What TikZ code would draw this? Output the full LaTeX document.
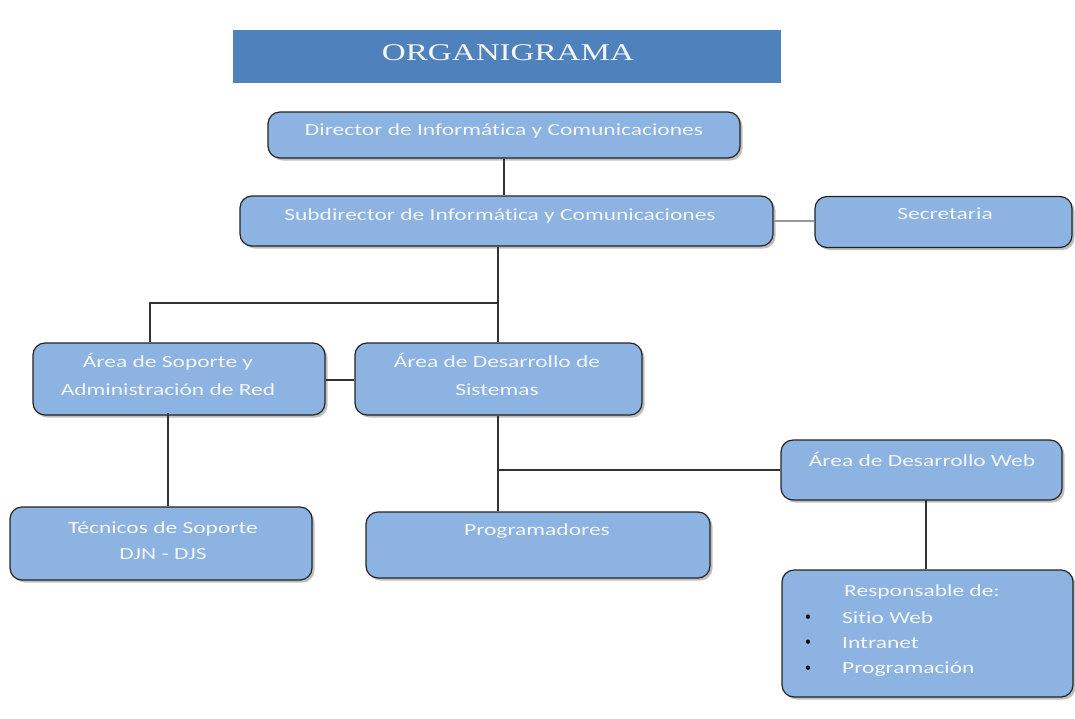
\documentclass[tikz,border=0pt]{standalone}
\usepackage{fontspec}
\setmainfont[Ligatures=NoCommon]{Carlito}
\newfontfamily\titlefont{Liberation Serif}
\usetikzlibrary{shadows}
\definecolor{boxblue}{RGB}{141,179,226}
\definecolor{titleblue}{RGB}{79,129,189}
\definecolor{edgecol}{RGB}{35,35,35}
\definecolor{conncol}{RGB}{50,50,50}
\definecolor{txtcol}{RGB}{244,247,250}
\newcommand\sx[1]{\scalebox{1.38}[1]{#1}}
\begin{document}
\begin{tikzpicture}[x=1pt,y=-1pt,
 box/.style={draw=edgecol, line width=1.2pt, fill=boxblue, rounded corners=12pt,
   drop shadow={shadow xshift=2.5pt, shadow yshift=-2.5pt, opacity=0.5}, inner sep=0pt},
 txt/.style={text=txtcol, font=\fontsize{17}{28}\selectfont, inner sep=0pt},
 conn/.style={draw=conncol, line width=1.3pt},
 bul/.style={text=black, font=\fontsize{12}{14}\selectfont, inner sep=0pt}]
\useasboundingbox (0,0) rectangle (1075,718);

% title
\node[fill=titleblue, minimum width=548pt, minimum height=53pt, inner sep=0pt] (title) at (507,56.5) {};
\node[text=txtcol, font=\titlefont\fontsize{24}{27}\selectfont, inner sep=0pt] (titletext) at (508,53) {\sx{ORGANIGRAMA}};

% boxes
\node[box, minimum width=472pt, minimum height=46pt] (dir) at (504,135) {};
\node[box, minimum width=533pt, minimum height=50pt] (sub) at (506.5,221) {};
\node[box, minimum width=257pt, minimum height=51pt] (sec) at (943.5,222) {};
\node[box, minimum width=292pt, minimum height=72pt] (sop) at (179,379) {};
\node[box, minimum width=287pt, minimum height=72pt] (dessis) at (498.5,379) {};
\node[box, minimum width=302pt, minimum height=73pt] (tec) at (161,543.5) {};
\node[box, minimum width=344pt, minimum height=66pt] (prog) at (538,545) {};
\node[box, minimum width=281pt, minimum height=60pt] (web) at (921.5,470) {};
\node[box, minimum width=291pt, minimum height=127pt] (resp) at (927.5,633.5) {};

% connectors
\draw[conn] (dir.south) -- (dir.south |- sub.north);
\draw[conn, draw=gray!80] (sub.east) -- (sub.east -| sec.west);
\coordinate (j1) at (498,303);
\coordinate (j2) at (150,303);
\draw[conn] (sub.south -| j1) -- (dessis.north -| j1);
\draw[conn] (j1) -- (j2) -- (j2 |- sop.north);
\coordinate (c2) at (325,380);
\draw[conn] (sop.east |- c2) -- (dessis.west |- c2);
\coordinate (c3) at (168,413);
\draw[conn] (c3) -- (c3 |- tec.north);
\coordinate (j4) at (498,470);
\draw[conn] (dessis.south -| j4) -- (j4 |- prog.north);
\draw[conn] (j4) -- (web.west);
\coordinate (c5) at (926,500);
\draw[conn] (c5) -- (c5 |- resp.north);

% texts
\node[txt] (tdir) at (504,131) {\sx{Director de Informática y Comunicaciones}};
\node[txt] (tsub) at (500,216) {\sx{Subdirector de Informática y Comunicaciones}};
\node[txt] (tsec) at (945,214) {\sx{Secretaria}};
\node[txt] (tsop) at (168,376) {\sx{\begin{tabular}{@{}c@{}}Área de Soporte y\\Administración de Red\end{tabular}}};
\node[txt] (tdes) at (497,376) {\sx{\begin{tabular}{@{}c@{}}Área de Desarrollo de\\Sistemas\end{tabular}}};
\node[txt, font=\fontsize{17}{26}\selectfont] (ttec) at (163,541) {\sx{\begin{tabular}{@{}c@{}}Técnicos de Soporte\\DJN - DJS\end{tabular}}};
\node[txt] (tprog) at (537,531) {\sx{Programadores}};
\node[txt] (tweb) at (922,459) {\sx{Área de Desarrollo Web}};
\node[txt] (tr0) at (922,592) {\sx{Responsable de:}};
\node[txt, anchor=west] (tr1) at (842,618) {\sx{Sitio Web}};
\node[txt, anchor=west] (tr2) at (842,643) {\sx{Intranet}};
\node[txt, anchor=west] (tr3) at (842,669) {\sx{Programación}};
\node[bul] (b1) at (808,618) {•};
\node[bul] (b2) at (808,643) {•};
\node[bul] (b3) at (808,669) {•};
\end{tikzpicture}
\end{document}
